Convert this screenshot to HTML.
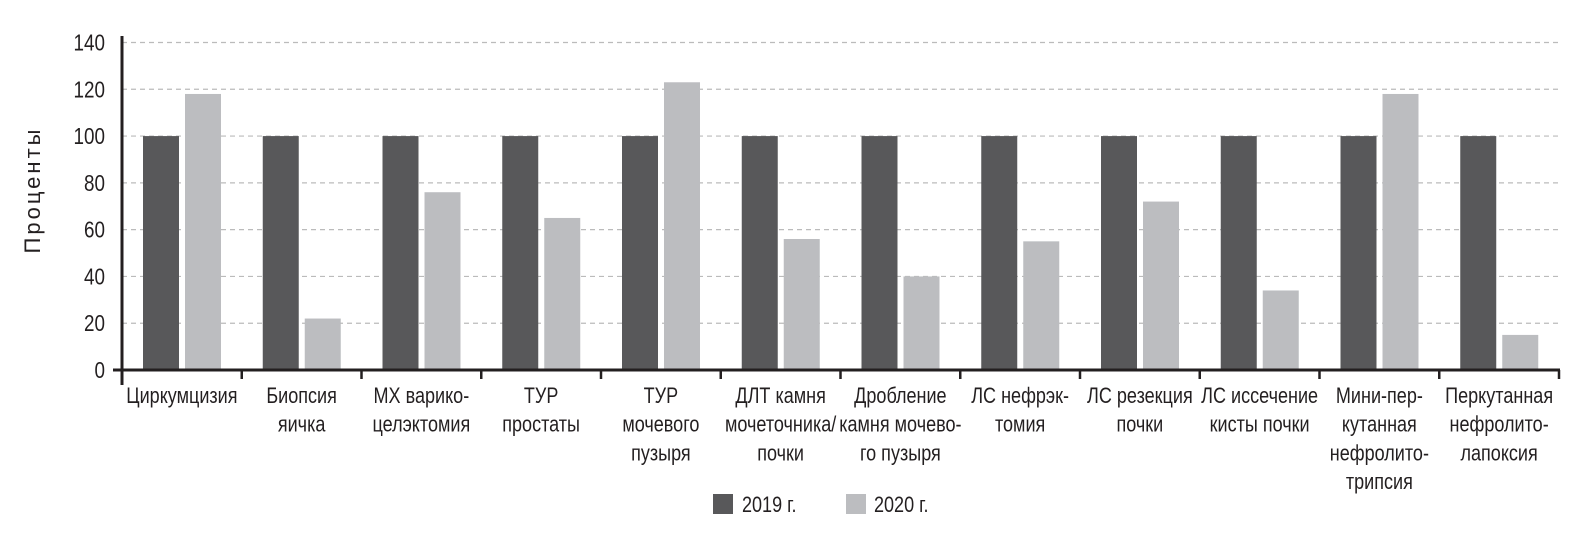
<!DOCTYPE html>
<html><head><meta charset="utf-8">
<style>
html,body{margin:0;padding:0;background:#fff;}
svg text{font-family:"Liberation Sans",sans-serif;fill:#231f20;}
</style></head>
<body>
<svg id="chart" width="1590" height="529" viewBox="0 0 1590 529" xmlns="http://www.w3.org/2000/svg">
<g id="grid"></g>
<g id="bars"></g>
<g id="axes"></g>
<g id="labels"></g>
<g transform="translate(40,190) rotate(-90)"><text x="0" y="0" text-anchor="middle" font-size="22" letter-spacing="3">Проценты</text></g>
<g>
<g><rect x="713" y="494" width="20" height="20" fill="#58585a"/><g transform="translate(742,512) scale(0.82,1)"><text font-size="22">2019 г.</text></g></g>
<g><rect x="846" y="494" width="20" height="20" fill="#bcbdc0"/><g transform="translate(874,512) scale(0.82,1)"><text font-size="22">2020 г.</text></g></g>
</g>
</svg>
<script>
const categories=[["Циркумцизия"],["Биопсия","яичка"],["МХ варико-","целэктомия"],["ТУР","простаты"],["ТУР","мочевого","пузыря"],["ДЛТ камня","мочеточника/","почки"],["Дробление","камня мочево-","го пузыря"],["ЛС нефрэк-","томия"],["ЛС резекция","почки"],["ЛС иссечение","кисты почки"],["Мини-пер-","кутанная","нефролито-","трипсия"],["Перкутанная","нефролито-","лапоксия"]];
const values2019=[100,100,100,100,100,100,100,100,100,100,100,100];
const values2020=[118,22,76,65,123,56,40,55,72,34,118,15];
const yTicks=[0,20,40,60,80,100,120,140];

const NS="http://www.w3.org/2000/svg";
const x0=122,x1=1559,y0=370,yTop=42.5,yMax=140;
const bw=(x1-x0)/categories.length;
const y=v=>y0-(v/yMax)*(y0-yTop);
const xc=i=>x0+i*bw;
function mk(tag,attrs,parent){const e=document.createElementNS(NS,tag);for(const k in attrs)e.setAttribute(k,attrs[k]);parent.appendChild(e);return e;}
const grid=document.getElementById('grid'),bars=document.getElementById('bars'),axes=document.getElementById('axes'),labels=document.getElementById('labels');
yTicks.forEach(t=>{
  if(t>0){const l=mk('line',{x1:x0,x2:x1,y1:y(t),y2:y(t),stroke:'#bbb','stroke-width':1.2,'stroke-dasharray':'5,4'},grid);
  
  }
  const g=mk('g',{transform:`translate(105,${y(t)+8}) scale(0.82,1)`},axes);
  
  
  const tx=mk('text',{'text-anchor':'end','font-size':23},g);tx.textContent=t;
});
categories.forEach((c,i)=>{
  const b1=mk('rect',{x:xc(i)+21,y:y(values2019[i]),width:36,height:y0-y(values2019[i]),fill:'#58585a'},bars);
  
  
  const b2=mk('rect',{x:xc(i)+63,y:y(values2020[i]),width:36,height:y0-y(values2020[i]),fill:'#bcbdc0'},bars);
  
  
  const g=mk('g',{},labels);
  
  
  c.forEach((ln,j)=>{
    const gg=mk('g',{transform:`translate(${xc(i)+bw/2},${403+j*28.7}) scale(0.82,1)`},g);
    const t=mk('text',{'text-anchor':'middle','font-size':22},gg);t.textContent=ln;
  });
  const tk=mk('line',{x1:xc(i+1),x2:xc(i+1),y1:y0,y2:y0+9,stroke:'#231f20','stroke-width':2.5},axes);
  
  
});
const ya=mk('line',{x1:x0,x2:x0,y1:36,y2:385,stroke:'#231f20','stroke-width':3},axes);


const xa=mk('line',{x1:113,x2:x1+1,y1:y0,y2:y0,stroke:'#231f20','stroke-width':3},axes);


</script>
</body></html>
